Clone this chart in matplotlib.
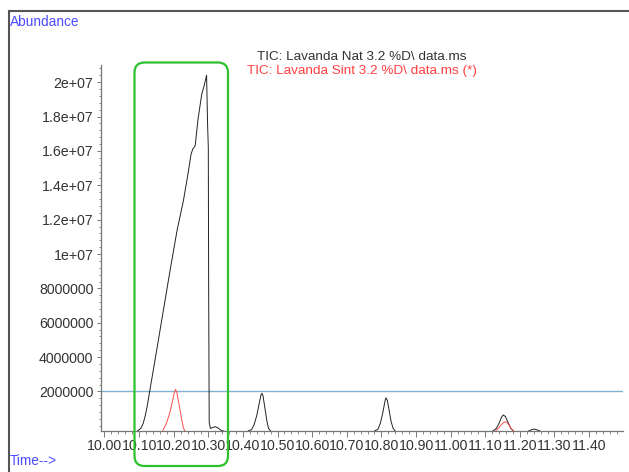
import matplotlib
matplotlib.use("Agg")
import matplotlib.pyplot as plt
from matplotlib.patches import FancyBboxPatch
from matplotlib.lines import Line2D
from matplotlib.transforms import IdentityTransform
from matplotlib.ticker import MultipleLocator, FixedLocator

NAN = float("nan")

# Retention time (min) and abundance (1e6 counts) for the two TIC traces;
# NaN entries separate the peaks, the flat baseline runs along the time axis
nat_time = [10.095, 10.105, 10.112, 10.118, 10.124, 10.131, 10.150, 10.170,
            10.190, 10.210, 10.228, 10.240, 10.250, 10.255, 10.262,
            10.270, 10.281, 10.288, 10.295, 10.298, 10.300, 10.301, 10.3026, 10.306,
            10.312, 10.320, 10.328, 10.338, 10.345, NAN,
            10.415, 10.425, 10.432, 10.440, 10.447, 10.452, 10.455, 10.458, 10.463,
            10.469, 10.474, 10.480, NAN,
            10.780, 10.790, 10.797, 10.804, 10.810, 10.813, 10.817, 10.822, 10.828,
            10.834, 10.840, NAN,
            11.122, 11.132, 11.140, 11.147, 11.152, 11.158, 11.166, 11.174, 11.182, NAN,
            11.225, 11.235, 11.241, 11.248, 11.258]
nat_abund = [-0.30, -0.15, 0.15, 0.60, 1.20, 2.05, 4.30, 6.70,
             9.10, 11.40, 13.10, 14.50, 15.80, 16.10, 16.30,
             17.80, 19.30, 19.80, 20.40, 17.50, 16.20, 8.00, 0.20, -0.15,
             -0.10, -0.05, -0.12, -0.28, -0.30, NAN,
             -0.30, -0.22, 0.05, 0.60, 1.30, 1.80, 1.89, 1.75, 1.10,
             0.30, -0.15, -0.30, NAN,
             -0.30, -0.20, 0.15, 0.75, 1.40, 1.63, 1.50, 0.95, 0.25,
             -0.15, -0.30, NAN,
             -0.30, -0.15, 0.15, 0.50, 0.63, 0.55, 0.20, -0.15, -0.30, NAN,
             -0.30, -0.22, -0.19, -0.22, -0.30]

sint_time = [10.168, 10.178, 10.188, 10.196, 10.202, 10.2055, 10.209, 10.215,
             10.222, 10.228, 10.232, NAN,
             11.130, 11.140, 11.150, 11.158, 11.165, 11.173, 11.182]
sint_abund = [-0.30, 0.10, 0.70, 1.40, 1.95, 2.12, 1.95, 1.30,
              0.50, -0.10, -0.30, NAN,
              -0.30, -0.10, 0.15, 0.24, 0.15, -0.10, -0.30]

threshold = 2.0  # 1e6 counts

x_ticks = [10.0 + 0.1 * i for i in range(15)]
x_tick_labels = ["10.00", "10.10", "10.20", "10.30", "10.40", "10.50", "10.60",
                 "10.70", "10.80", "10.90", "11.00", "11.10", "11.20", "11.30", "11.40"]
y_ticks = [2, 4, 6, 8, 10, 12, 14, 16, 18, 20]
y_tick_labels = ["2000000", "4000000", "6000000", "8000000", "1e+07",
                 "1.2e+07", "1.4e+07", "1.6e+07", "1.8e+07", "2e+07"]

legend_nat = "TIC: Lavanda Nat 3.2 %D\\ data.ms"
legend_sint = "TIC: Lavanda Sint 3.2 %D\\ data.ms (*)"

plt.rcParams["font.family"] = ["Liberation Sans", "DejaVu Sans"]

W, H = 629, 472
fig = plt.figure(figsize=(W / 100, H / 100), dpi=100)
fig.patch.set_facecolor("white")
ax = fig.add_axes([101 / W, 1 - 431 / H, (623 - 101) / W, (431 - 65) / H])

scale = 1e6
ax.plot(nat_time, [v * scale for v in nat_abund], color="#222222", lw=0.7, zorder=3)
ax.plot(sint_time, [v * scale for v in sint_abund], color="#ff4d4d", lw=0.7, zorder=3)
ax.axhline(threshold * scale, color="#7fb2cf", lw=1.0, zorder=2)

ax.set_xlim(9.99, 11.498)
ax.set_ylim(-0.30 * scale, 21.0 * scale)

for side in ("top", "right"):
    ax.spines[side].set_visible(False)
for side in ("left", "bottom"):
    ax.spines[side].set_color("#777777")
    ax.spines[side].set_linewidth(0.9)
    ax.spines[side].set_zorder(4)

ax.xaxis.set_major_locator(FixedLocator(x_ticks))
ax.set_xticklabels(x_tick_labels)
ax.xaxis.set_minor_locator(MultipleLocator(0.02))
ax.yaxis.set_major_locator(FixedLocator([v * scale for v in y_ticks]))
ax.set_yticklabels(y_tick_labels)
ax.yaxis.set_minor_locator(MultipleLocator(0.4 * scale))

ax.tick_params(axis="x", which="major", direction="out", length=4.5, width=0.7,
               color="#777777", labelsize=10.2, labelcolor="#333333", pad=1.2)
ax.tick_params(axis="x", which="minor", direction="out", length=2.5, width=0.6,
               color="#777777")
ax.tick_params(axis="y", which="major", direction="out", length=3, width=0.7,
               color="#777777", labelsize=10.2, labelcolor="#333333", pad=2.5)
ax.tick_params(axis="y", which="minor", direction="out", length=1.5, width=0.6,
               color="#777777")

# Trace legend above the plot area
fig.text(362 / W, 1 - 57.5 / H, legend_nat, ha="center", va="center",
         fontsize=9.7, color="#333333")
fig.text(362 / W, 1 - 71 / H, legend_sint, ha="center", va="center",
         fontsize=9.7, color="#ff4040")

# Axis captions
fig.text(10 / W, 1 - 22 / H, "Abundance", ha="left", va="center",
         fontsize=9.8, color="#4a4aff")
fig.text(10 / W, 1 - 461 / H, "Time-->", ha="left", va="center",
         fontsize=9.8, color="#4a4aff")

# Frame lines along the top and left edge
fig.add_artist(Line2D([8.5 / W, 1.0], [1 - 10.5 / H, 1 - 10.5 / H],
                      transform=fig.transFigure, color="#555555", lw=1.5))
fig.add_artist(Line2D([8.5 / W, 8.5 / W], [0.0, 1 - 10.5 / H],
                      transform=fig.transFigure, color="#555555", lw=1.5))

# Highlight box around the main peak
box = FancyBboxPatch((134.5, H - 466), 228 - 134.5, 466 - 62.5,
                     boxstyle="round,pad=0,rounding_size=10",
                     transform=IdentityTransform(), fill=False,
                     edgecolor="#2dc22d", lw=1.6, zorder=10)
fig.add_artist(box)

fig.savefig("out.png", dpi=100)
